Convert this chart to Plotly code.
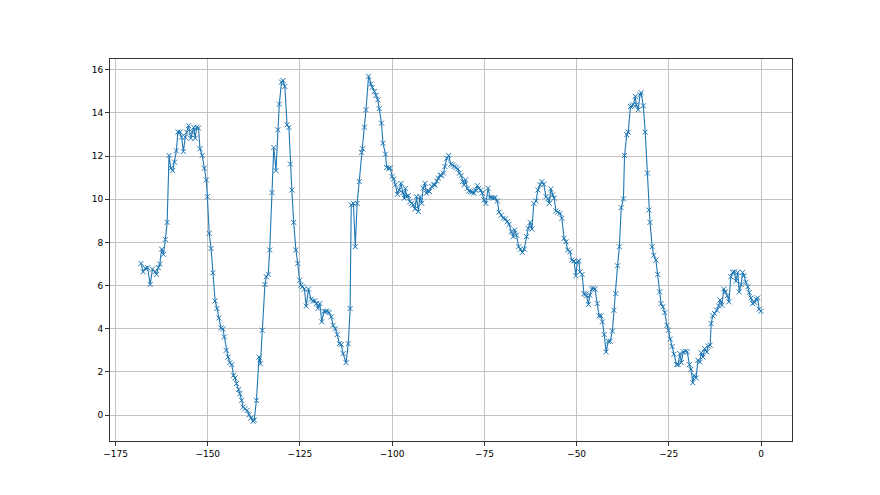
import plotly.graph_objects as go

x_vals = [
-168.1,-167.5,-166.9,-166.3,-165.6,-165.0,-164.3,-163.9,-163.4,-163.0,-162.5,-162.0,-161.5,-161.0,-160.5,-160.0,-159.5,-159.0,-158.5,-158.1,
-157.5,-157.1,-156.6,-156.1,-155.7,-155.2,-154.6,-154.2,-153.8,-153.4,-153.0,-152.5,-152.1,-151.5,-150.9,-150.4,-150.1,-149.6,-149.1,-148.6,
-148.0,-147.5,-147.0,
-146.4,-145.9,-145.5,-145.0,-144.5,-144.0,-143.5,-143.0,-142.6,-142.2,-141.6,-141.3,-140.8,-140.4,-139.9,-139.3,-138.8,-138.3,-137.7,-137.4,
-136.8,-136.1,-135.7,-135.2,-134.5,-134.1,-133.6,-133.2,-132.6,-132.1,-131.5,-131.0,-130.6,-130.0,-129.6,-129.1,-128.5,-128.0,-127.6,-127.2,
-126.7,-126.1,-125.6,-125.1,-124.7,-124.3,-123.8,-123.3,-122.7,
-122.0,-121.5,-121.0,-120.5,-120.1,-119.6,-119.1,-118.5,-118.0,-117.6,-117.1,-116.5,-116.0,-115.4,-114.9,-114.3,-113.8,-113.3,-112.5,-111.9,
-111.4,-111.1,-110.5,-110.0,-109.5,-108.9,-108.3,-108.0,-107.5,-107.1,-106.4,-105.8,-105.4,-104.8,-104.4,-103.9,-103.5,-102.9,-102.5,-101.8,
-101.5,-100.9,-100.5,-100.0,-99.6,-99.1,-98.6,-98.1,
-97.6,-97.1,-96.7,-96.4,
-96.1,-95.6,-95.2,-94.7,-94.3,-93.8,-93.4,-92.9,-92.5,-92.0,-91.6,-91.1,-90.7,-90.3,-89.9,-89.3,-88.8,-88.4,-87.9,-87.5,
-87.0,-86.6,-86.1,-85.7,-85.2,-84.7,-84.1,-83.6,-83.2,-82.7,-82.2,-81.8,-81.3,-80.9,-80.5,-80.1,-79.6,-79.2,-78.7,-78.3,
-77.8,-77.4,-76.9,-76.5,-76.0,-75.6,-75.1,-74.6,-74.0,-73.5,
-73.0,-72.6,-72.1,-71.5,-71.0,-70.4,-69.9,-69.3,-68.8,-68.3,-67.7,-67.2,-66.8,-66.3,-65.7,-65.2,-64.7,-64.2,-63.6,-63.1,
-62.6,-62.1,-61.6,-61.0,-60.5,-59.9,-59.4,-58.9,-58.3,-57.8,-57.4,-57.0,-56.5,-56.1,-55.6,-55.1,-54.5,-54.0,-53.4,-52.9,
-52.4,-51.8,-51.3,-50.7,-50.2,-49.8,-49.4,-49.1,-48.5,-48.0,
-47.6,-47.3,-46.8,-46.4,-45.9,-45.5,-45.0,-44.4,-43.9,-43.4,-43.0,-42.5,-42.0,-41.4,-40.9,-40.3,-39.9,-39.4,-38.9,-38.4,
-37.9,-37.3,-37.0,-36.4,-36.0,-35.4,-35.0,-34.6,-34.1,-33.8,-33.3,-32.8,-32.5,-31.9,-31.4,-30.8,-30.4,-30.1,-29.5,-29.1,
-28.5,-28.0,-27.5,-27.1,-26.6,-26.1,-25.5,-25.1,
-24.6,-24.1,-23.6,
-22.9,-22.5,-22.0,-21.6,-21.1,-20.5,-20.0,-19.4,-19.0,-18.5,-18.1,-17.6,-17.1,-16.6,-16.2,-15.7,-15.3,-14.7,-14.3,-13.8,
-13.5,-13.1,-12.6,-12.0,-11.5,-11.1,-10.6,-10.1,-9.7,-9.1,-8.7,-8.2,-7.7,-7.2,-6.8,-6.3,-5.9,-5.4,-5.0,-4.6,
-4.1,-3.6,-3.2,-2.7,-2.3,-1.7,-1.3,-0.9,-0.5,0.0,
]

y_vals = [
7.03,6.64,6.80,6.83,6.05,6.76,6.64,6.52,6.83,7.00,7.69,7.45,8.14,8.93,12.03,11.44,11.33,11.72,12.24,13.11,
13.11,12.88,12.21,12.88,13.11,13.41,12.83,13.11,13.33,12.83,13.34,13.30,12.34,12.03,11.44,10.90,10.12,8.42,7.72,6.59,
5.29,4.94,4.50,
4.04,4.00,3.62,3.00,2.69,2.43,2.34,1.84,1.72,1.46,1.19,0.99,0.68,0.37,0.29,0.22,0.02,-0.14,-0.29,-0.22,
0.68,2.69,2.38,3.93,6.05,6.41,6.52,7.65,10.31,12.40,11.33,13.22,14.41,15.43,15.50,15.23,13.45,13.33,11.63,10.43,
8.93,7.65,7.03,6.25,6.02,5.94,5.84,5.05,5.84,
5.37,5.29,5.29,5.17,4.94,5.17,4.32,4.81,4.81,4.81,4.75,4.55,4.16,4.00,3.73,3.31,3.27,2.85,2.43,3.31,
4.94,9.74,9.81,7.80,9.81,10.82,12.17,12.34,13.34,14.15,15.70,15.34,15.19,15.00,14.81,14.61,14.20,13.53,12.60,12.09,
11.47,11.44,11.44,11.05,10.94,10.67,10.23,10.43,
10.74,10.30,10.05,10.51,
10.12,10.17,9.89,9.81,9.74,9.55,10.12,9.43,10.12,9.81,10.51,10.74,10.28,10.40,10.36,10.59,10.67,10.67,10.85,10.98,
11.13,11.10,11.21,11.52,11.90,12.03,11.63,11.59,11.52,11.47,11.41,11.21,11.10,10.82,10.67,10.90,10.51,10.39,10.36,10.33,
10.28,10.43,10.63,10.51,10.43,10.28,9.97,9.81,10.51,10.08,
10.08,10.05,10.08,9.92,9.40,9.27,9.12,9.09,8.96,8.84,8.50,8.27,8.58,8.34,7.80,7.69,7.54,7.69,8.27,8.65,
8.93,8.62,9.81,9.92,10.43,10.67,10.82,10.70,10.12,10.02,9.81,10.48,10.20,10.05,9.46,9.40,9.35,9.12,8.19,8.03,
7.65,7.57,7.18,7.14,6.46,7.11,7.14,6.64,6.52,5.63,
5.60,5.53,5.12,5.56,5.84,5.87,5.84,5.17,4.60,4.60,4.32,3.73,2.93,3.42,3.42,3.89,4.86,5.63,6.92,7.80,
9.61,10.02,12.03,12.99,13.11,14.30,14.33,14.38,14.77,14.38,14.15,14.85,14.94,14.33,13.11,11.21,9.50,8.93,7.80,7.41,
7.18,6.52,5.71,5.17,5.02,4.75,4.16,3.93,
3.52,3.18,2.82,
2.34,2.34,2.85,2.43,2.93,2.96,2.93,2.34,2.12,1.50,1.84,1.72,2.54,2.46,2.89,2.69,3.08,2.93,3.20,3.24,
4.24,4.60,4.71,4.86,5.06,5.33,5.09,5.84,5.71,5.53,5.25,6.41,6.61,6.64,6.21,6.61,5.71,6.05,6.61,6.46,
6.15,5.94,5.68,5.43,5.17,5.22,5.37,5.43,4.91,4.81,
]

x_ticks = [-175, -150, -125, -100, -75, -50, -25, 0]
y_ticks = [0, 2, 4, 6, 8, 10, 12, 14, 16]

fig = go.Figure()
fig.add_trace(go.Scatter(
    x=x_vals, y=y_vals, mode="lines+markers",
    line=dict(color="#1f77b4", width=1.1),
    marker=dict(symbol="x-thin", size=5, line=dict(color="#1f77b4", width=1), color="#1f77b4"),
    showlegend=False,
))

axis_common = dict(
    showgrid=True, gridcolor="#c4c4c4", gridwidth=1,
    showline=True, linecolor="#333333", linewidth=1, mirror=True,
    ticks="outside", ticklen=4, tickcolor="#333333", tickwidth=1,
    zeroline=False,
    tickfont=dict(family="DejaVu Sans", size=9, color="#000000"),
)

fig.update_layout(
    width=872, height=487,
    margin=dict(l=102, r=88, t=51, b=54),
    paper_bgcolor="white", plot_bgcolor="white",
    xaxis=dict(range=[-176.5, 8.4], tickvals=x_ticks, **axis_common),
    yaxis=dict(range=[-1.2, 16.5], tickvals=y_ticks, **axis_common),
)

fig.write_html("out.html")
